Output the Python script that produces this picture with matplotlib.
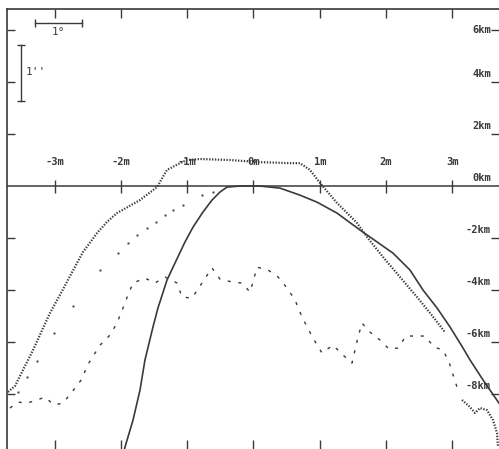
import numpy as np
import matplotlib
matplotlib.use('Agg')
import matplotlib.pyplot as plt

# x in arc-minutes ("m"), y in km
XTICKS = [-3, -2, -1, 0, 1, 2, 3]
XLABELS = ['-3m', '-2m', '-1m', '0m', '1m', '2m', '3m']
YTICKS = [6, 4, 2, 0, -2, -4, -6, -8]
YLABELS = ['6km', '4km', '2km', '0km', '-2km', '-4km', '-6km', '-8km']

# solid curve
solid_x = [-1.967, -1.938, -1.817, -1.712, -1.637, -1.516, -1.441, -1.305, -1.184, -1.033,
           -0.912, -0.762, -0.626, -0.505, -0.400, -0.204, 0.098, 0.400, 0.701, 0.958,
           1.259, 1.606, 1.863, 2.104, 2.360, 2.557, 2.768, 2.964, 3.160, 3.266,
           3.462, 3.703, 3.80]
solid_y = [-10.35, -10.04, -9.00, -7.85, -6.69, -5.42, -4.69, -3.62, -2.96, -2.15,
           -1.58, -1.00, -0.54, -0.23, -0.04, 0.0, 0.0, -0.08, -0.35, -0.62,
           -1.04, -1.69, -2.15, -2.58, -3.23, -4.00, -4.69, -5.42, -6.23, -6.69,
           -7.46, -8.35, -8.75]

# dense dotted curve (with a break before the tail)
dense_x = [-3.703, -3.597, -3.326, -3.069, -2.919, -2.662, -2.572, -2.360, -2.210, -2.059,
           -1.712, -1.456, -1.305, -1.109, -1.003, -0.807, -0.354, 0.098, 0.551, 0.701,
           0.852, 1.003, 1.259, 1.561, 1.712, 1.953, 2.210, 2.466, 2.662, 2.888,
           np.nan, 3.145, 3.266, 3.341, 3.416, 3.522, 3.612, 3.673, 3.688]
dense_y = [-7.92, -7.69, -6.31, -4.88, -4.19, -2.96, -2.54, -1.81, -1.38, -1.04,
           -0.54, -0.04, 0.62, 0.88, 1.00, 1.04, 1.00, 0.92, 0.88, 0.88,
           0.62, 0.12, -0.65, -1.42, -1.96, -2.73, -3.50, -4.27, -4.88, -5.62,
           np.nan, -8.23, -8.50, -8.73, -8.54, -8.62, -9.00, -9.50, -10.04]

# sparse dots
dots_x = [-3.552, -3.416, -3.265, -3.009, -2.722, -2.315, -2.044, -1.893, -1.757, -1.606,
          -1.471, -1.335, -1.214, -1.063, -0.777, -0.611]
dots_y = [-7.92, -7.35, -6.73, -5.65, -4.62, -3.23, -2.58, -2.19, -1.88, -1.62,
          -1.38, -1.12, -0.92, -0.73, -0.35, -0.23]

# short dashes
dash_x = [-3.673, -3.552, -3.416, -3.265, -3.145, -3.009, -2.873, -2.738, -2.587, -2.511,
          -2.315, -2.164, -2.059, -1.968, -1.893, -1.817, -1.637, -1.486, -1.335, -1.154,
          -1.078, -0.928, -0.777, -0.626, -0.505, -0.324, -0.173, -0.053, -0.008, 0.053,
          0.219, 0.370, 0.505, 0.626, 0.732, 0.897, 1.033, 1.199, 1.350, 1.486,
          1.576, 1.637, 1.757, 1.908, 2.044, 2.179, 2.300, 2.466, 2.587, 2.722,
          2.858, 2.949, 3.069]
dash_y = [-8.54, -8.31, -8.35, -8.23, -8.12, -8.42, -8.35, -7.92, -7.42, -6.92,
          -6.12, -5.73, -5.27, -4.69, -4.19, -3.73, -3.54, -3.73, -3.50, -3.73,
          -4.27, -4.31, -3.73, -3.15, -3.58, -3.69, -3.73, -4.08, -3.69, -3.12,
          -3.23, -3.50, -3.92, -4.38, -5.04, -5.85, -6.42, -6.12, -6.50, -6.81,
          -5.81, -5.27, -5.62, -5.92, -6.27, -6.23, -5.77, -5.77, -5.77, -6.19,
          -6.31, -6.77, -7.73]

INK = '#3a3a3a'
FONT = 'DejaVu Sans Mono'

fig = plt.figure(figsize=(4.99, 4.49), dpi=100)
ax = fig.add_axes([7 / 499, 0.0, 492 / 499, 440 / 449])
ax.set_xlim(-3.718, 3.703)
ax.set_ylim(-10.115, 6.81)

ax.plot(solid_x, solid_y, color=INK, lw=1.2)
ax.plot(dense_x, dense_y, color=INK, lw=1.6, linestyle=(0, (0.6, 0.7)))
ax.plot(dots_x, dots_y, color=INK, linestyle='none', marker='s', markersize=1.4, markeredgewidth=0)
ax.plot(dash_x, dash_y, color=INK, lw=1.0, linestyle=(0, (2.2, 5.5)))

# x axis through 0 km with crossing ticks
ax.axhline(0, color=INK, lw=1.1)
ax.vlines(XTICKS, -0.25, 0.25, color=INK, lw=1.0)
for xv, lab in zip(XTICKS, XLABELS):
    ax.text(xv, 0.93, lab, ha='center', va='center', fontsize=7.5, color=INK,
            family=FONT, fontweight='bold')
for yv, lab in zip(YTICKS, YLABELS):
    ax.text(3.58, yv + (0.3 if yv <= 4 else 0.0), lab, ha='right', va='center',
            fontsize=7.5, color=INK, family=FONT, fontweight='bold')

ax.set_xticks(XTICKS)
ax.set_yticks([v for v in YTICKS if v != 0])
ax.tick_params(axis='x', which='both', top=True, bottom=True, direction='in', length=6.5,
               width=1.0, color=INK, labelbottom=False, labeltop=False)
ax.tick_params(axis='y', which='both', left=True, right=True, direction='in', length=5.5,
               width=1.0, color=INK, labelleft=False, labelright=False)
for side in ['right', 'bottom']:
    ax.spines[side].set_visible(False)
for side in ['left', 'top']:
    ax.spines[side].set_color(INK)
    ax.spines[side].set_linewidth(1.2)

# scale bars
hb_x = [-3.29, -2.59]
hb_y = 6.27
ax.plot(hb_x, [hb_y, hb_y], color=INK, lw=1.0)
ax.vlines(hb_x, hb_y - 0.15, hb_y + 0.15, color=INK, lw=1.0)
ax.text(sum(hb_x) / 2, hb_y - 0.34, "1°", ha='center', va='center', fontsize=8,
        color=INK, family=FONT)
vb_x = -3.5
vb_y = [5.42, 3.27]
ax.plot([vb_x, vb_x], vb_y, color=INK, lw=1.0)
ax.hlines(vb_y, vb_x - 0.06, vb_x + 0.06, color=INK, lw=1.0)
ax.text(vb_x + 0.06, sum(vb_y) / 2 + 0.05, "1''", ha='left', va='center', fontsize=8,
        color=INK, family=FONT)

fig.savefig('out.png', dpi=100, facecolor='white')
